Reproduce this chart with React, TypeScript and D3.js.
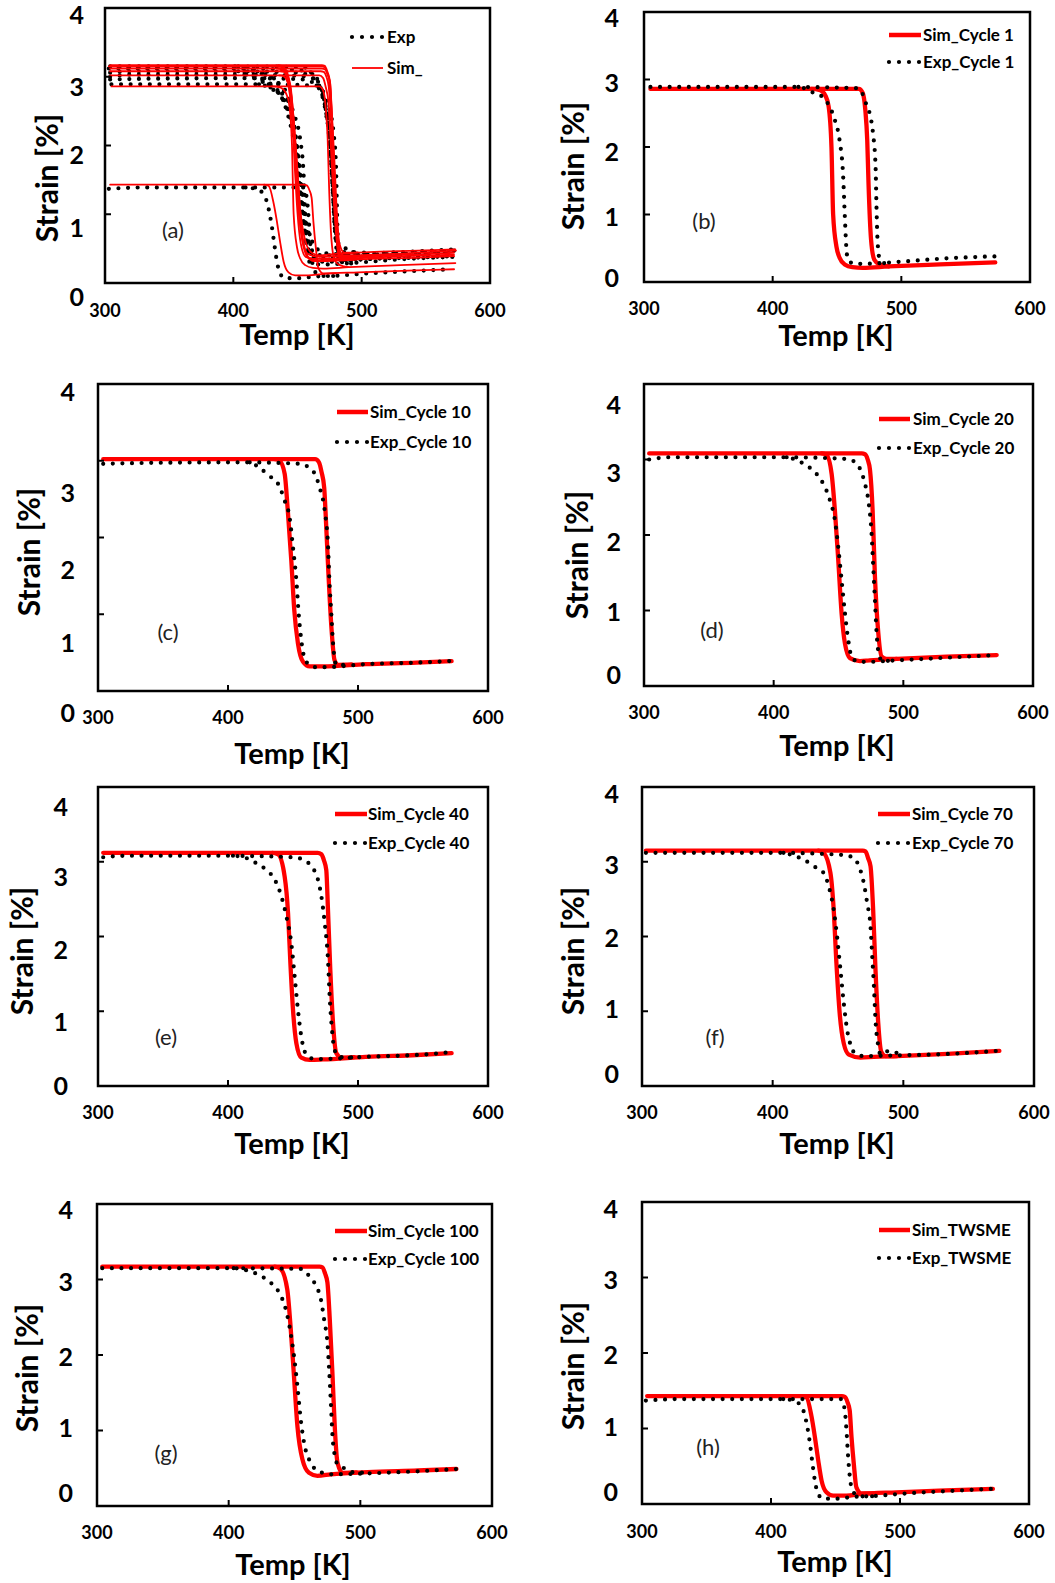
import * as d3 from "d3";
import { useEffect, useRef } from "react";

const xTicks = [300, 400, 500, 600];
const yTicks = [0, 1, 2, 3, 4];

// Cycle 1  [Temp K, strain %]
const simCool1 = [[305,2.86],[430,2.86],[437,2.84],[441,2.76],[443.5,2.6],[445.7,2.0],[447,1.0],[449.6,0.52],[452,0.36],[456,0.26],[462,0.22],[470,0.21],[490,0.23],[530,0.26],[573,0.29]];
const simHeat1 = [[430,2.86],[467,2.86],[470,2.8],[472,2.55],[473.5,2.1],[474.5,1.46],[476.5,0.62],[479,0.33],[483,0.26],[490,0.23]];
const expCool1 = [[305,2.89],[420,2.89],[426,2.86],[433,2.79],[439,2.74],[443,2.64],[448.3,2.4],[452,2.1],[454.8,1.56],[456,1.01],[457.4,0.47],[458.7,0.32],[464,0.27],[470,0.27],[499,0.3],[535,0.35],[573,0.38]];
const expHeat1 = [[420,2.89],[466,2.87],[470,2.78],[473,2.62],[475.5,2.49],[478,2.2],[480,1.7],[480.7,1.11],[481.5,0.62],[483,0.35],[487,0.28],[494,0.29]];

// Cycle 10
const simCool10 = [[304,3.02],[436,3.02],[439.7,3.0],[443.6,2.83],[446,2.35],[448.7,1.7],[451,1.05],[453.8,0.62],[457.7,0.38],[462.8,0.32],[473,0.32],[506,0.35],[545,0.37],[572,0.39]];
const simHeat10 = [[436,3.02],[467,3.02],[470,2.98],[472,2.85],[474,2.65],[475.6,2.13],[477.4,1.48],[479.5,0.84],[482,0.4],[484.6,0.34],[495,0.345]];
const expCool10 = [[304,2.96],[330,2.97],[416.7,2.98],[424,2.91],[432,2.8],[438.5,2.7],[443.6,2.48],[447.4,2.26],[450,1.87],[452.6,1.44],[454.4,1.0],[456.4,0.66],[459,0.42],[462.8,0.34],[466.7,0.31],[474.4,0.31],[506,0.35],[545,0.37],[571,0.39]];
const expHeat10 = [[416.7,2.98],[455,2.96],[461.5,2.92],[466.7,2.83],[470.5,2.65],[474.4,2.35],[477,1.87],[478,1.44],[479.5,1.0],[480.8,0.62],[483.3,0.34],[489.7,0.34],[495,0.345]];

// Cycle 20
const simCool20 = [[304,3.08],[437,3.08],[440.8,3.06],[444.7,2.81],[447.2,2.33],[449.8,1.67],[452.4,0.96],[455,0.56],[458.8,0.37],[466.5,0.33],[474,0.34],[495,0.36],[533.5,0.39],[572,0.41]];
const simHeat20 = [[437,3.08],[468,3.08],[470.4,3.07],[472.5,3.0],[474.3,2.86],[476.3,2.33],[478.1,1.45],[480.7,0.7],[483.3,0.39],[487,0.36],[495,0.36]];
const expCool20 = [[304,3.0],[320,3.03],[410,3.03],[417.6,2.99],[425.4,2.92],[433,2.81],[438.2,2.68],[443.4,2.46],[447.2,2.2],[449.8,1.84],[452.4,1.4],[455,0.96],[457.5,0.61],[460.1,0.39],[465.3,0.32],[473,0.32],[494.8,0.34],[533.5,0.375],[572,0.41]];
const expHeat20 = [[410,3.03],[453.7,3.01],[461.4,2.98],[466.5,2.88],[470.4,2.68],[473,2.46],[475.5,2.02],[476.8,1.58],[478.1,1.14],[479.4,0.7],[481.5,0.39],[484.6,0.32],[489.7,0.34],[495,0.345]];

// Cycle 40
const simCool40 = [[304,3.12],[434,3.12],[438.5,3.1],[443.6,2.8],[446.2,2.31],[448,1.64],[450,1.02],[452.6,0.57],[456.4,0.38],[462.8,0.35],[473,0.355],[506,0.39],[545,0.415],[572,0.44]];
const simHeat40 = [[434,3.12],[469,3.12],[471.8,3.1],[473.8,3.02],[475.6,2.89],[476.9,2.36],[478.7,1.55],[480.8,0.84],[483.3,0.44],[487.2,0.38],[497,0.385]];
const expCool40 = [[304,3.06],[320,3.08],[403.8,3.08],[414,3.05],[421.8,2.98],[429.5,2.89],[436,2.76],[441,2.54],[444.9,2.27],[448.7,1.91],[451.3,1.46],[453.8,1.02],[456.4,0.66],[459,0.46],[464,0.37],[470.5,0.36],[506,0.39],[545,0.415],[570.5,0.45]];
const expHeat40 = [[403.8,3.08],[450,3.06],[457.7,3.03],[464,2.94],[469.2,2.76],[471.8,2.54],[474.4,2.18],[476.9,1.69],[478.2,1.2],[480,0.75],[482,0.48],[485.9,0.39],[491,0.38],[497,0.385]];

// Cycle 70
const simCool70 = [[303,3.15],[435,3.15],[439,3.12],[444.2,2.85],[446.7,2.36],[448.8,1.64],[451.3,0.97],[454.4,0.57],[458.3,0.42],[467.2,0.38],[477.5,0.39],[495.4,0.4],[533.8,0.43],[573.5,0.47]];
const simHeat70 = [[435,3.15],[469,3.15],[471,3.14],[473,3.05],[474.9,2.94],[476.9,2.36],[478.7,1.55],[480.8,0.84],[483.1,0.46],[486.4,0.4],[495.4,0.4]];
const expCool70 = [[303,3.12],[408.3,3.12],[416,3.08],[423.7,3.03],[431.4,2.94],[439,2.85],[442.9,2.67],[446.7,2.36],[449.3,2.0],[451.9,1.55],[454.4,1.11],[457,0.75],[460,0.53],[463.4,0.43],[469.8,0.4],[495.4,0.41],[521,0.42],[546.6,0.44],[572.2,0.47]];
const expHeat70 = [[408.3,3.12],[454.4,3.09],[462.1,3.05],[466,2.94],[469.8,2.71],[472.3,2.45],[474.9,2.13],[476.2,1.73],[477.5,1.33],[478.7,0.88],[480.5,0.57],[482.6,0.42],[489,0.47],[495.4,0.44],[500,0.42]];

// Cycle 100
const simCool100 = [[304,3.17],[435,3.17],[439.4,3.14],[444.5,2.87],[447,2.38],[449.6,1.72],[452.2,1.06],[456,0.62],[461,0.44],[467.4,0.4],[477.6,0.42],[505.6,0.45],[543.8,0.47],[573,0.49]];
const simHeat100 = [[435,3.17],[469,3.17],[471.2,3.16],[473.2,3.08],[475,2.96],[476.8,2.47],[478.9,1.72],[480.7,1.01],[482.7,0.57],[486.5,0.44],[497,0.445]];
const expCool100 = [[304,3.15],[403.8,3.15],[414,3.12],[424.2,3.05],[431.8,2.96],[438.2,2.83],[443.3,2.61],[447,2.3],[449.6,1.99],[452.2,1.59],[454.7,1.15],[457.8,0.79],[461,0.62],[466.2,0.48],[471.2,0.44],[477.6,0.42],[518.3,0.44],[543.8,0.46],[573,0.49]];
const expHeat100 = [[403.8,3.15],[454.7,3.14],[461,3.05],[466.2,2.92],[470,2.74],[472.5,2.47],[475,2.16],[476.3,1.81],[477.6,1.37],[478.9,0.92],[480.7,0.66],[483.2,0.54],[487.8,0.5],[491.6,0.46],[498,0.44],[505,0.445]];

// TWSME
const simCoolTw = [[304,1.43],[424,1.43],[427.6,1.41],[431.4,1.16],[434,0.89],[436.6,0.58],[439.2,0.31],[443,0.155],[448.2,0.11],[458.5,0.11],[468.8,0.13],[497.2,0.155],[535.8,0.18],[572,0.2]];
const simHeatTw = [[424,1.43],[455,1.43],[457.2,1.42],[459.3,1.35],[461,1.24],[462.4,0.89],[464.2,0.53],[466.2,0.22],[470.1,0.14],[480,0.14]];
const expCoolTw = [[303,1.37],[330,1.39],[409.5,1.39],[418.6,1.36],[423.7,1.29],[427.6,1.07],[430.2,0.8],[432.2,0.53],[434,0.31],[436.6,0.13],[440.5,0.07],[453.4,0.07],[461,0.09],[484.3,0.11],[497.2,0.13],[535.8,0.17],[570.6,0.2]];
const expHeatTw = [[409.5,1.39],[454.6,1.39],[457.2,1.24],[458.5,0.98],[459.8,0.62],[461.1,0.36],[463.1,0.18],[467.5,0.11],[474,0.1],[484.3,0.11]];

const cycleNames = ["Cycle 1", "Cycle 10", "Cycle 20", "Cycle 40", "Cycle 70", "Cycle 100", "TWSME"];
const simSets = [[simCool1, simHeat1], [simCool10, simHeat10], [simCool20, simHeat20], [simCool40, simHeat40], [simCool70, simHeat70], [simCool100, simHeat100], [simCoolTw, simHeatTw]];
const expSets = [[expCool1, expHeat1], [expCool10, expHeat10], [expCool20, expHeat20], [expCool40, expHeat40], [expCool70, expHeat70], [expCool100, expHeat100], [expCoolTw, expHeatTw]];

// layout of the 8 panels (pixel boxes, label spots)
const panels = [
  { letter: "(a)", sets: [0, 1, 2, 3, 4, 5, 6], thin: true, frame: [105, 8, 490, 283], yLab: [297, 228, 155, 87, 15], yLabX: 84, xLabY: 311, yTitle: [47, 178], xTitle: [297, 345], legend: [352, 383, 37, 68, 387], letterAt: [173, 230] },
  { letter: "(b)", sets: [0], frame: [644, 12, 1030, 282], yLab: [278, 217, 152, 83, 18], yLabX: 619, xLabY: 309, yTitle: [573, 166], xTitle: [836, 346], legend: [889, 921, 35, 62, 923], letterAt: [704, 221] },
  { letter: "(c)", sets: [1], frame: [98, 384, 488, 691], yLab: [713, 643, 570, 493, 392], yLabX: 75, xLabY: 718, yTitle: [29, 552], xTitle: [292, 764], legend: [337, 368, 412, 442, 370], letterAt: [168, 632] },
  { letter: "(d)", sets: [2], frame: [644, 384, 1033, 686], yLab: [675, 612, 542, 473, 405], yLabX: 621, xLabY: 713, yTitle: [577, 555], xTitle: [837, 756], legend: [879, 910, 419, 448, 913], letterAt: [712, 630] },
  { letter: "(e)", sets: [3], frame: [98, 787, 488, 1086], yLab: [1086, 1022, 950, 877, 807], yLabX: 68, xLabY: 1113, yTitle: [22, 951], xTitle: [292, 1154], legend: [335, 367, 814, 843, 368], letterAt: [166, 1037] },
  { letter: "(f)", sets: [4], frame: [642, 787, 1034, 1086], yLab: [1074, 1009, 938, 865, 794], yLabX: 619, xLabY: 1113, yTitle: [573, 951], xTitle: [837, 1154], legend: [878, 910, 814, 843, 912], letterAt: [715, 1037] },
  { letter: "(g)", sets: [5], frame: [97, 1204, 492, 1506], yLab: [1493, 1428, 1357, 1282, 1210], yLabX: 73, xLabY: 1533, yTitle: [27, 1368], xTitle: [293, 1575], legend: [335, 367, 1231, 1259, 368], letterAt: [166, 1453] },
  { letter: "(h)", sets: [6], frame: [642, 1202, 1029, 1504], yLab: [1492, 1427, 1355, 1280, 1209], yLabX: 618, xLabY: 1532, yTitle: [573, 1366], xTitle: [835, 1572], legend: [879, 910, 1230, 1258, 912], letterAt: [708, 1447] },
];

const RED = "#ff0000";
const FONT = "Lato, 'Open Sans', sans-serif";

function App() {
  const svgRef = useRef(null);

  useEffect(() => {
    const svg = d3.select(svgRef.current);
    svg.selectAll("*").remove();

    panels.forEach((p) => {
      const [l, t, r, b] = p.frame;
      const x = d3.scaleLinear().domain([300, 600]).range([l, r]);
      const y = d3.scaleLinear().domain([0, 4]).range([b, t]);
      const yLabel = d3.scaleLinear().domain(yTicks).range(p.yLab);
      const line = d3.line().x((d) => x(d[0])).y((d) => y(d[1])).curve(d3.curveMonotoneX);
      const g = svg.append("g");

      const drawSim = () => {
        p.sets.forEach((i) => {
          simSets[i].forEach((branch) => {
            g.append("path").attr("d", line(branch)).attr("fill", "none")
              .attr("stroke", RED).attr("stroke-width", p.thin ? 1.8 : 4.3)
              .attr("stroke-linejoin", "round").attr("stroke-linecap", "round");
          });
        });
      };
      const drawExp = () => {
        p.sets.forEach((i) => {
          expSets[i].forEach((branch) => {
            g.append("path").attr("d", line(branch)).attr("fill", "none")
              .attr("stroke", "#000").attr("stroke-width", 4.2)
              .attr("stroke-dasharray", "0 9.6").attr("stroke-linecap", "round");
          });
        });
      };
      if (p.thin) { drawExp(); drawSim(); } else { drawSim(); drawExp(); }

      // frame + inside ticks
      g.append("rect").attr("x", l).attr("y", t).attr("width", r - l).attr("height", b - t)
        .attr("fill", "none").attr("stroke", "#000").attr("stroke-width", 2.5);
      [400, 500].forEach((v) => {
        g.append("line").attr("x1", x(v)).attr("x2", x(v)).attr("y1", b).attr("y2", b - 6)
          .attr("stroke", "#000").attr("stroke-width", 2);
      });
      [1, 2, 3].forEach((v) => {
        g.append("line").attr("x1", l).attr("x2", l + 6).attr("y1", y(v)).attr("y2", y(v))
          .attr("stroke", "#000").attr("stroke-width", 2);
      });

      // tick labels
      xTicks.forEach((v) => {
        g.append("text").attr("x", x(v)).attr("y", p.xLabY).attr("dy", "0.36em")
          .attr("text-anchor", "middle").attr("font-family", FONT).attr("font-weight", 700)
          .attr("font-size", 18).text(v);
      });
      yTicks.forEach((v) => {
        g.append("text").attr("x", p.yLabX).attr("y", yLabel(v)).attr("dy", "0.36em")
          .attr("text-anchor", "end").attr("font-family", FONT).attr("font-weight", 700)
          .attr("font-size", 25).text(v);
      });

      // axis titles
      g.append("text").attr("transform", `translate(${p.yTitle[0]},${p.yTitle[1]}) rotate(-90)`)
        .attr("dy", "0.36em").attr("text-anchor", "middle").attr("font-family", FONT)
        .attr("font-weight", 700).attr("font-size", 30).text("Strain [%]");
      g.append("text").attr("x", p.xTitle[0]).attr("y", p.xTitle[1])
        .attr("text-anchor", "middle").attr("font-family", FONT)
        .attr("font-weight", 700).attr("font-size", 29).text("Temp [K]");

      // panel letter
      g.append("text").attr("x", p.letterAt[0]).attr("y", p.letterAt[1]).attr("dy", "0.36em")
        .attr("text-anchor", "middle").attr("font-family", FONT).attr("font-size", 22)
        .attr("fill", "#222").text(p.letter);

      // legend
      const [lx1, lx2, ly1, ly2, tx] = p.legend;
      const name = cycleNames[p.sets[0]];
      const rows = p.thin
        ? [{ label: "Exp", exp: true, y: ly1 }, { label: "Sim_", exp: false, y: ly2 }]
        : [{ label: "Sim_" + name, exp: false, y: ly1 }, { label: "Exp_" + name, exp: true, y: ly2 }];
      rows.forEach((row) => {
        const seg = g.append("line").attr("x1", lx1).attr("x2", lx2).attr("y1", row.y).attr("y2", row.y);
        if (row.exp) {
          seg.attr("stroke", "#000").attr("stroke-width", 4.2).attr("stroke-dasharray", "0 10")
            .attr("stroke-linecap", "round");
        } else {
          seg.attr("stroke", RED).attr("stroke-width", p.thin ? 1.8 : 4.5);
        }
        g.append("text").attr("x", tx).attr("y", row.y).attr("dy", "0.36em")
          .attr("font-family", FONT).attr("font-weight", 700).attr("font-size", 17)
          .text(row.label);
      });
    });
  }, []);

  return (
    <svg ref={svgRef} width={1055} height={1583}
      style={{ position: "absolute", left: 0, top: 0, background: "#fff" }} />
  );
}

export default App;
